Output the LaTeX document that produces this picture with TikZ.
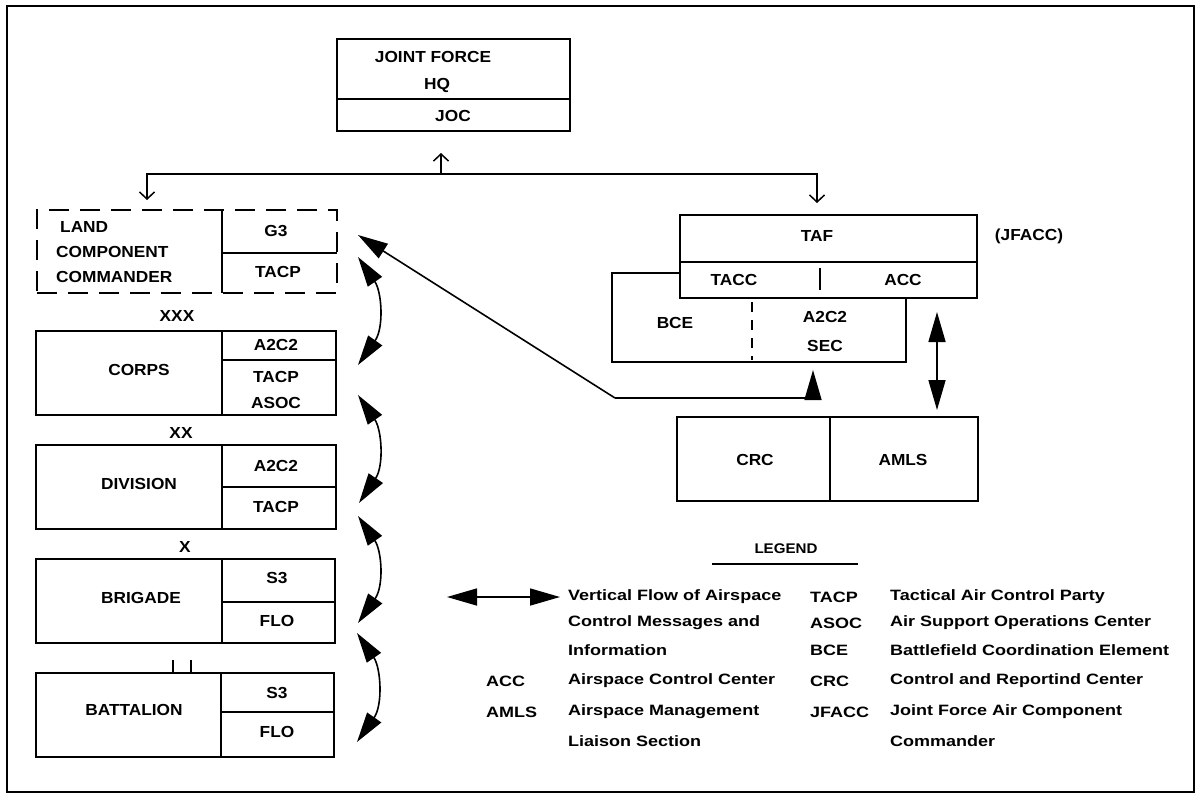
\documentclass[tikz,border=0pt]{standalone}
\usepackage{fontspec}
\setmainfont{Liberation Sans}
\newfontfamily\boxfont{Liberation Sans}[FakeStretch=1.08]
\newfontfamily\legfont{Liberation Sans}[FakeStretch=1.2]
\usetikzlibrary{arrows.meta}
\begin{document}
\begin{tikzpicture}[x=1pt,y=-1pt,
  box/.style={draw, line width=1.8pt, inner sep=0pt},
  dbox/.style={box, dash pattern=on 20pt off 11pt},
  rule/.style={line width=1.8pt},
  conn/.style={line width=1.6pt},
  lbl/.style={font=\boxfont\bfseries\fontsize{16}{18}\selectfont, inner sep=0pt},
  legab/.style={font=\legfont\bfseries\fontsize{15}{17}\selectfont, inner sep=0pt, anchor=west},
  legtx/.style={font=\legfont\bfseries\fontsize{15}{17}\selectfont, inner sep=0pt, anchor=west},
  barb/.style={{Straight Barb[length=7pt,width=15pt,line width=1.5pt]}-{Straight Barb[length=7pt,width=15pt,line width=1.5pt]}},
  upbarb/.style={-{Straight Barb[length=7pt,width=15pt,line width=1.5pt]}},
  fat/.style={-{Triangle[length=30pt,width=17pt]}},
  fatboth/.style={{Triangle[length=30pt,width=17pt]}-{Triangle[length=30pt,width=17pt]}},
  curly/.style={line width=1.6pt, {Triangle[length=30pt,width=17pt]}-{Triangle[length=30pt,width=17pt]}}
]
\useasboundingbox (0,0) rectangle (1201,796);
\fill[white] (0,0) rectangle (1201,796);
% frame
\draw[line width=2.5pt] (7,6) rectangle (1194,792);

% Joint Force HQ
\node[box, minimum width=233pt, minimum height=92pt] (jf) at (453.5,85) {};
\draw[rule] (337,99) -- (570,99);
\node[lbl] (jfa) at (433,57) {JOINT FORCE};
\node[lbl] (jfb) at (437,85) {HQ};
\node[lbl] (joc) at (453,116) {JOC};

% bus
\coordinate (upTip) at (441,153);
\coordinate (tee) at (441,174);
\coordinate (busL) at (147,174);
\coordinate (busR) at (817,174);
\coordinate (landTip) at (147,200);
\coordinate (tafTip) at (817,203);
\draw[conn, upbarb] (tee) -- (upTip);
\draw[conn, barb] (landTip) -- (busL) -- (busR) -- (tafTip);

% Land component commander
\node[dbox, minimum width=300pt, minimum height=83pt] (land) at (187,251.5) {};
\draw[rule] (222,210) -- (222,293);
\draw[rule] (222,253) -- (337,253);
\node[lbl, anchor=west] (landa) at (60,227) {LAND};
\node[lbl, anchor=west] (landb) at (56,252) {COMPONENT};
\node[lbl, anchor=west] (landc) at (56,277) {COMMANDER};
\node[lbl] (g3) at (276,231) {G3};
\node[lbl] (landtacp) at (278,272) {TACP};

% Corps
\node[lbl] (xxx) at (177,316) {XXX};
\node[box, minimum width=300pt, minimum height=84pt] (corps) at (186,373) {};
\draw[rule] (222,331) -- (222,415);
\draw[rule] (222,360) -- (336,360);
\node[lbl] (corpsn) at (139,370) {CORPS};
\node[lbl] (ca2c2) at (276,345) {A2C2};
\node[lbl] (ctacp) at (276,377) {TACP};
\node[lbl] (casoc) at (276,403) {ASOC};

% Division
\node[lbl] (xx) at (181,433) {XX};
\node[box, minimum width=300pt, minimum height=84pt] (div) at (186,487) {};
\draw[rule] (222,445) -- (222,529);
\draw[rule] (222,487) -- (336,487);
\node[lbl] (divn) at (139,484) {DIVISION};
\node[lbl] (da2c2) at (276,466) {A2C2};
\node[lbl] (dtacp) at (276,507) {TACP};

% Brigade
\node[lbl] (x) at (185,547) {X};
\node[box, minimum width=299pt, minimum height=84pt] (brig) at (185.5,601) {};
\draw[rule] (222,559) -- (222,643);
\draw[rule] (222,602) -- (335,602);
\node[lbl] (brign) at (141,598) {BRIGADE};
\node[lbl] (bs3) at (277,578) {S3};
\node[lbl] (bflo) at (277,621) {FLO};

% Battalion
\draw[conn] (173,660) -- (173,673);
\draw[conn] (191,660) -- (191,673);
\node[box, minimum width=298pt, minimum height=84pt] (bn) at (185,715) {};
\draw[rule] (221,673) -- (221,757);
\draw[rule] (221,712) -- (334,712);
\node[lbl] (bnn) at (134,710) {BATTALION};
\node[lbl] (bns3) at (277,693) {S3};
\node[lbl] (bnflo) at (277,732) {FLO};

% curly arrows
\draw[curly] (358,257) .. controls (382,292) and (384,328) .. (358,365);
\draw[curly] (358,395) .. controls (382,430) and (384,466) .. (359,503);
\draw[curly] (358,516) .. controls (382,551) and (384,586) .. (358,623);
\draw[curly] (357,633) .. controls (381,668) and (383,705) .. (357,742);

% TAF
\draw[rule] (680,273) -- (612,273) -- (612,362) -- (906,362) -- (906,298);
\node[box, minimum width=297pt, minimum height=83pt] (taf) at (828.5,256.5) {};
\draw[rule] (680,262) -- (977,262);
\draw[line width=1.8pt] (820,268) -- (820,290);
\draw[line width=1.8pt, dash pattern=on 10pt off 8pt] (752,302) -- (752,360);
\node[lbl] (tafn) at (817,236) {TAF};
\node[lbl] (tacc) at (734,280) {TACC};
\node[lbl] (acc) at (903,280) {ACC};
\node[lbl] (bce) at (675,323) {BCE};
\node[lbl] (sa2c2) at (825,317) {A2C2};
\node[lbl] (sec) at (825,346) {SEC};
\node[lbl] (jfacc) at (1029,236) {(JFACC)};

% CRC / AMLS
\node[box, minimum width=301pt, minimum height=84pt] (crc) at (827.5,459) {};
\draw[rule] (830,417) -- (830,501);
\node[lbl] (crcn) at (755,460) {CRC};
\node[lbl] (amls) at (903,460) {AMLS};

% arrows
\coordinate (g3Tip) at (358,235);
\coordinate (bend) at (615,398);
\coordinate (corner) at (813,398);
\coordinate (secTip) at (813,370);
\draw[conn, fat] (bend) -- (g3Tip);
\draw[conn, fat] (bend) -- (corner) -- (secTip);
\coordinate (dA) at (937,312);
\coordinate (dB) at (937,410);
\draw[conn, fatboth] (dA) -- (dB);

% Legend
\node[lbl, font=\boxfont\bfseries\fontsize{14}{16}\selectfont] (leg) at (786,549) {LEGEND};
\draw[line width=1.6pt] (712,564) -- (858,564);
\coordinate (lA) at (447,597);
\coordinate (lB) at (560,597);
\draw[conn, fatboth] (lA) -- (lB);
\node[legtx] (l1) at (568,597) {Vertical Flow of Airspace};
\node[legtx] (l2) at (568,623) {Control Messages and};
\node[legtx] (l3) at (568,650) {Information};
\node[legab] (acca) at (486,681) {ACC};
\node[legtx] (accd) at (568,681) {Airspace Control Center};
\node[legab] (amlsa) at (486,712) {AMLS};
\node[legtx] (amlsd) at (568,712) {Airspace Management};
\node[legtx] (amlsd2) at (568,741) {Liaison Section};
\node[legab] (ta) at (810,597) {TACP};
\node[legtx] (td) at (890,597) {Tactical Air Control Party};
\node[legab] (aa) at (810,623) {ASOC};
\node[legtx] (ad) at (890,623) {Air Support Operations Center};
\node[legab] (ba) at (810,650) {BCE};
\node[legtx] (bd) at (890,650) {Battlefield Coordination Element};
\node[legab] (ca) at (810,681) {CRC};
\node[legtx] (cd) at (890,681) {Control and Reportind Center};
\node[legab] (ja) at (810,712) {JFACC};
\node[legtx] (jd) at (890,712) {Joint Force Air Component};
\node[legtx] (jd2) at (890,741) {Commander};
\end{tikzpicture}
\end{document}
